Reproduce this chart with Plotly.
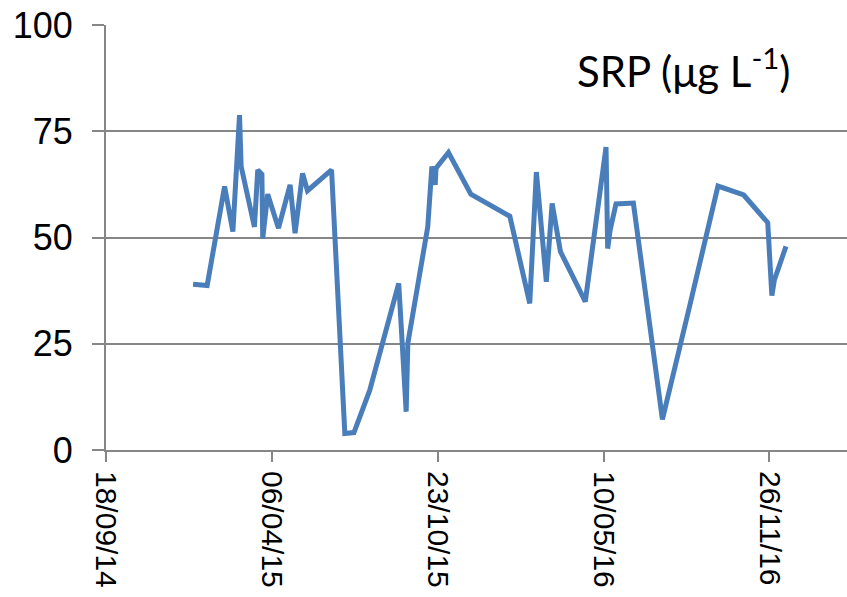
import plotly.graph_objects as go

dates = [
    "2015-01-01", "2015-01-18", "2015-02-08", "2015-02-18", "2015-02-26",
    "2015-02-28", "2015-03-16", "2015-03-20", "2015-03-25", "2015-03-26",
    "2015-04-01", "2015-04-14", "2015-04-28", "2015-05-04", "2015-05-13",
    "2015-05-19", "2015-06-17", "2015-07-03", "2015-07-14", "2015-08-02",
    "2015-09-06", "2015-09-15", "2015-09-17", "2015-10-11", "2015-10-16",
    "2015-10-20", "2015-10-21", "2015-11-05", "2015-12-02", "2016-01-18",
    "2016-02-11", "2016-02-19", "2016-03-02", "2016-03-09", "2016-03-19",
    "2016-04-18", "2016-05-13", "2016-05-15", "2016-05-18", "2016-05-25",
    "2016-06-15", "2016-07-20", "2016-08-22", "2016-09-25", "2016-10-26",
    "2016-11-24", "2016-11-29", "2016-12-02", "2016-12-16",
]
srp = [
    39.0, 38.7, 62.0, 51.4, 78.8,
    66.7, 52.5, 65.9, 64.9, 49.8,
    60.2, 52.2, 62.4, 51.0, 65.1,
    61.0, 65.9, 3.9, 4.1, 14.0,
    39.2, 9.0, 25.1, 52.5, 66.7,
    62.4, 66.3, 70.0, 60.2, 55.0,
    34.5, 65.4, 39.6, 58.0, 46.7,
    34.9, 71.3, 47.4, 51.8, 57.9,
    58.1, 7.2, 34.0, 62.1, 60.0,
    53.5, 36.3, 40.0, 47.9,
]
y_ticks = [0, 25, 50, 75, 100]
title_text = "SRP (μg L<sup>-1</sup>)"

fig = go.Figure()
fig.add_trace(go.Scatter(
    x=dates, y=srp, mode="lines",
    line=dict(color="#4A7EBB", width=5),
    showlegend=False, hoverinfo="skip",
))

grid = "#868686"
fig.update_layout(
    width=847, height=597,
    margin=dict(l=106, r=0, t=25, b=147),
    paper_bgcolor="white", plot_bgcolor="white",
    font=dict(family="Liberation Sans, Arial, sans-serif", color="black"),
    xaxis=dict(
        type="date", automargin=False,
        range=["2014-09-18", "2017-02-27 14:24"],
        tick0="2014-09-18", dtick=200 * 86400000,
        tickformat="%d/%m/%y", tickangle=90,
        ticks="outside", ticklen=10, tickwidth=2, tickcolor=grid,
        showline=True, linecolor=grid, linewidth=2,
        showgrid=False, zeroline=False,
        tickfont=dict(size=30, family="Liberation Sans, Arial, sans-serif", color="black"),
        ticklabelstandoff=3,
    ),
    yaxis=dict(
        range=[0, 100], tickvals=y_ticks, automargin=False,
        ticks="outside", ticklen=12, tickwidth=2, tickcolor=grid,
        showline=True, linecolor=grid, linewidth=2,
        showgrid=True, gridcolor=grid, gridwidth=2,
        zeroline=False,
        tickfont=dict(size=36, family="Liberation Sans, Arial, sans-serif", color="black"),
        ticklabelstandoff=12,
    ),
    annotations=[dict(
        text=title_text, xref="paper", yref="paper",
        x=0.927, y=0.9, xanchor="right", yanchor="middle",
        showarrow=False,
        font=dict(family="Lato, Open Sans, sans-serif", size=42, color="black"),
    )],
)

fig.write_html(
    "out.html",
    config={"displayModeBar": False},
    post_script="document.body.style.margin='0';",
)
